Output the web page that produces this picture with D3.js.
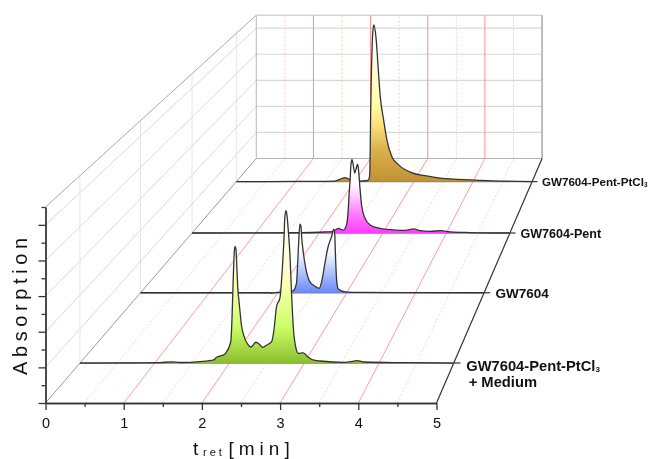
<!DOCTYPE html>
<html>
<head>
  <style>
  body { margin: 0; background: #fff; }
  svg { filter: blur(.35px); }
  text { font-family: "Liberation Sans", Arial, sans-serif; fill: #111; }
  .axis path, .axis line { stroke: #333; stroke-width: 1.3px; }
  .axis text { font-size: 14.5px; fill: #111; font-family: "Liberation Sans", Arial, sans-serif; }
  .label { font-weight: bold; }
  </style>
</head>
<body>
  <svg id="chart" width="649" height="459"></svg>
  <script src="https://d3js.org/d3.v7.min.js"></script>
  <script>
  // series, front to back
  var seriesNames = ["GW7604-Pent-PtCl3 + Medium", "GW7604", "GW7604-Pent", "GW7604-Pent-PtCl3"];

  // [retention time, absorption]
  var mediumValues = [[0,0],[1.07,.01],[1.23,.035],[1.34,.015],[1.605,.04],[1.79,.09],[1.82,.155],[1.87,.205],[1.93,.25],[1.96,.33],[2,.5],[2.02,.68],[2.033,1.26],[2.05,2.44],[2.062,3.18],[2.073,3.42],[2.087,3.32],[2.1,2.74],[2.11,2.24],[2.13,1.76],[2.163,1.07],[2.19,.82],[2.25,.53],[2.287,.47],[2.354,.61],[2.4,.55],[2.444,.46],[2.5,.53],[2.564,.63],[2.595,.97],[2.63,1.66],[2.675,1.91],[2.706,2.74],[2.73,3.71],[2.74,4.26],[2.755,4.47],[2.77,4.32],[2.786,3.91],[2.81,3.13],[2.83,2.06],[2.853,1.07],[2.89,.43],[2.92,.285],[2.987,.3],[3.054,.17],[3.117,.09],[3.21,.06],[3.545,.02],[3.64,.045],[3.705,.07],[3.81,.03],[4.28,.01],[5,0]];
  var gw7604Values = [[0,0],[1.88,0],[1.91,-.02],[1.96,.005],[2.175,.04],[2.22,.065],[2.27,.31],[2.287,.95],[2.306,1.79],[2.32,2.19],[2.335,2.13],[2.345,1.79],[2.37,1.27],[2.41,.725],[2.466,.35],[2.54,.21],[2.6,.14],[2.636,.35],[2.684,.95],[2.73,1.47],[2.78,1.79],[2.815,2.035],[2.827,1.84],[2.837,1.2],[2.854,.405],[2.877,.12],[2.975,.03],[3.19,.01],[5,0]];
  var pentValues = [[0,0],[1.7,.01],[2.09,.035],[2.2,.05],[2.233,.07],[2.3,.16],[2.38,.1],[2.43,.28],[2.457,.79],[2.47,1.31],[2.484,1.73],[2.5,2.35],[2.516,2.54],[2.53,2.42],[2.56,2.07],[2.58,2.21],[2.605,2.38],[2.62,2.17],[2.64,1.6],[2.67,.91],[2.72,.52],[2.8,.28],[2.956,.16],[3.22,.1],[3.35,.09],[3.49,.14],[3.585,.08],[3.74,.06],[3.915,.08],[4.06,.04],[4.37,.017],[5,0]];
  var ptclValues = [[0,0],[1.075,.005],[1.667,.02],[1.72,.06],[1.785,.115],[1.836,.145],[1.9,.096],[1.955,.04],[2.06,.02],[2.22,.04],[2.247,.13],[2.258,.43],[2.27,2.47],[2.284,4.14],[2.298,5.19],[2.31,5.62],[2.326,5.81],[2.36,5.37],[2.4,4.14],[2.433,3.15],[2.49,2.285],[2.546,1.54],[2.63,.92],[2.744,.62],[2.97,.32],[3.19,.22],[3.44,.13],[3.746,.08],[4.316,.03],[5,0]];
  var seriesValues = [mediumValues, gw7604Values, pentValues, ptclValues];

  var xTicks = [0, 1, 2, 3, 4, 5];
  var xMinorTicks = [.5, 1.5, 2.5, 3.5, 4.5];
  var yTicks = [0, 1, 2, 3, 4, 5];
  var yMinorTicks = [.5, 1.5, 2.5, 3.5, 4.5, 5.5];
  var labelLines = [["GW7604-Pent-PtCl|3", "+ Medium"], ["GW7604"], ["GW7604-Pent"], ["GW7604-Pent-PtCl|3"]];

  // gradient stops, baseline up to peak
  var seriesStops = [
    [[0, "#8cbf2e"], [.24, "#ccff66"], [.5, "#f8ffb0"], [.7, "#ffffdd"], [1, "#ffffff"]],
    [[0, "#6a88f8"], [.3, "#b0c4fa"], [.55, "#f0f4ff"], [.7, "#ffffff"]],
    [[0, "#ff3cff"], [.3, "#ff88ff"], [.54, "#ffd8ff"], [.68, "#ffffff"]],
    [[0, "#bf9233"], [.2, "#dab04a"], [.36, "#fde07c"], [.49, "#ffffa6"], [.74, "#ffffe0"], [.9, "#ffffff"]]
  ];

  var svg = d3.select("#chart");

  var x = d3.scaleLinear().domain([0, 5]).range([45.5, 436.5]);
  var y = d3.scaleLinear().domain([0, 5.5]).range([403, 207]);
  var depth = d3.scaleBand().domain(seriesNames).range([0, 1]);

  // perspective towards one vanishing point, z=0 front, z=1 back wall
  var vanish = [829, -506], persp = .368;
  function shrink(z) { return 1 / (1 + persp * z); }
  function px(t, z) { return vanish[0] + (x(t) - vanish[0]) * shrink(z); }
  function py(a, z) { return vanish[1] + (y(a) - vanish[1]) * shrink(z); }
  function zOf(name) { return depth(name) + depth.bandwidth() / 2; }

  function seg(p, q, color, width, dash) {
    svg.append("line")
      .attr("x1", px(p[0], p[2])).attr("y1", py(p[1], p[2]))
      .attr("x2", px(q[0], q[2])).attr("y2", py(q[1], q[2]))
      .style("stroke", color).style("stroke-width", width)
      .style("stroke-dasharray", dash || null);
  }

  // walls
  seriesNames.forEach(function(name) {
    seg([0, 0, zOf(name)], [0, 5.5, zOf(name)], "#e6e6e6", 1);
  });
  yTicks.slice(1).forEach(function(a) {
    seg([0, a, 0], [0, a, 1], "#d8d8d8", 1);
    seg([0, a, 1], [5, a, 1], "#d8d8d8", 1.2);
  });
  xMinorTicks.forEach(function(t) {
    seg([t, 0, 0], [t, 0, 1], "#ffd0d0", 1, "2,2");
    seg([t, 0, 1], [t, 5.5, 1], "#ffc8c8", 1, "2,2");
  });
  xTicks.slice(1, 5).forEach(function(t) {
    seg([t, 0, 0], [t, 0, 1], "#ff9c9c", 1);
    seg([t, 0, 1], [t, 5.5, 1], "#ff8c8c", 1);
  });
  seg([0, 5.5, 0], [0, 5.5, 1], "#a8a8a8", 1);
  seg([0, 5.5, 1], [5, 5.5, 1], "#c0c0c0", 1);
  seg([0, 0, 1], [0, 5.5, 1], "#b4b4b4", 1);
  seg([5, 0, 1], [5, 5.5, 1], "#a8a8a8", 1.5);
  seg([0, 0, 1], [5, 0, 1], "#b0b0b0", 1);
  seg([0, 0, 0], [0, 0, 1], "#999", 1);
  seg([5, 0, 0], [5, 0, 1], "#333", 1.2);

  // series, back first so the front ones cover them
  var defs = svg.append("defs");
  d3.range(seriesNames.length).reverse().forEach(function(i) {
    var name = seriesNames[i], z = zOf(name), s = shrink(z), values = seriesValues[i];

    var grad = defs.append("linearGradient").attr("id", "fill" + i)
      .attr("x1", 0).attr("y1", 1).attr("x2", 0).attr("y2", 0);
    grad.selectAll("stop").data(seriesStops[i]).enter().append("stop")
      .attr("offset", function(d) { return d[0]; })
      .attr("stop-color", function(d) { return d[1]; });

    // baseline and the tick past the right edge
    svg.append("line")
      .attr("x1", px(0, z)).attr("x2", px(5, z))
      .attr("y1", py(0, z)).attr("y2", py(0, z))
      .style("stroke", "#808080").style("stroke-width", 1.4);
    svg.append("line")
      .attr("x1", px(5, z)).attr("x2", px(5, z) + 7 * s)
      .attr("y1", py(0, z)).attr("y2", py(0, z))
      .style("stroke", "#333").style("stroke-width", 1.2);

    var area = d3.area().curve(d3.curveMonotoneX)
      .x(function(d) { return px(d[0], z); })
      .y0(py(0, z))
      .y1(function(d) { return py(Math.max(d[1], 0), z); });
    svg.append("path").attr("d", area(values)).style("fill", "url(#fill" + i + ")");

    var curve = d3.line().curve(d3.curveMonotoneX)
      .x(function(d) { return px(d[0], z); })
      .y(function(d) { return py(d[1], z); });
    svg.append("path").attr("d", curve(values))
      .style("fill", "none").style("stroke", "#333").style("stroke-width", 1.3);

    // labels get smaller with distance as well
    var size = 15.4 * s;
    labelLines[i].forEach(function(line, k) {
      var parts = line.split("|");
      var t = svg.append("text").attr("class", "label")
        .attr("x", px(5, z) + 13 * s + (k ? 2.5 : 0))
        .attr("y", py(0, z) + size * .36 + (i == 0 ? 2.5 : 0) + k * size * 1.13)
        .style("font-size", size + "px")
        .text(parts[0]);
      if (parts[1]) t.append("tspan").attr("dy", 1).style("font-size", size * .55 + "px").text(parts[1]);
    });
  });

  // front axes
  var xAxis = svg.append("g").attr("class", "axis").attr("transform", "translate(0,403)");
  xAxis.append("g").call(d3.axisBottom(x).tickValues(xTicks).tickSize(7).tickSizeOuter(0).tickPadding(8).tickFormat(d3.format("d")));
  xAxis.append("g").call(d3.axisBottom(x).tickValues(xMinorTicks).tickSize(4).tickSizeOuter(0).tickFormat(""));
  var yAxis = svg.append("g").attr("class", "axis").attr("transform", "translate(45.5,0)");
  yAxis.append("g").call(d3.axisLeft(y).tickValues(yTicks).tickSize(7).tickSizeOuter(0).tickFormat(""));
  yAxis.append("g").call(d3.axisLeft(y).tickValues(yMinorTicks).tickSize(4).tickSizeOuter(0).tickFormat(""));

  // axis titles
  svg.append("text")
    .attr("transform", "translate(27,375) rotate(-90)")
    .style("font-size", "20px").style("letter-spacing", "4.6px")
    .text("Absorption");

  var xTitle = svg.append("text").attr("x", 193).attr("y", 455).style("font-size", "19px");
  xTitle.append("tspan").text("t");
  xTitle.append("tspan").attr("x", 203).attr("y", 456.4).style("font-size", "11px").style("letter-spacing", "3px").text("ret");
  xTitle.append("tspan").attr("x", 228.5).attr("y", 455).style("letter-spacing", "5px").text("[min]");
  </script>
</body>
</html>
